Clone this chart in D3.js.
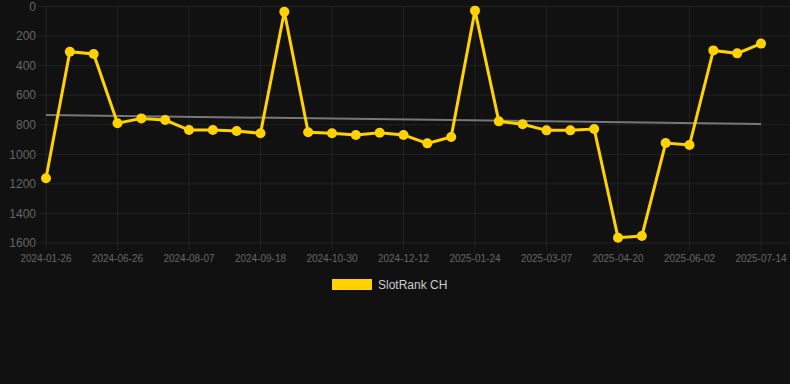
<!DOCTYPE html>
<html>
<head>
<meta charset="utf-8">
<script src="https://cdn.jsdelivr.net/npm/d3@7"></script>
<style>
  html, body { margin: 0; padding: 0; background: #111111; }
  svg { display: block; }
  text { font-family: "Liberation Sans", Arial, sans-serif; }
</style>
</head>
<body>
<svg width="790" height="384"></svg>
<script>

// Fechas de cada punto (solo se muestra una de cada tres)
let fechas = ['2024-01-26', '2024-05-29', '2024-06-12', '2024-06-26', '2024-07-10', '2024-07-24',
              '2024-08-07', '2024-08-21', '2024-09-04', '2024-09-18', '2024-10-02', '2024-10-16',
              '2024-10-30', '2024-11-13', '2024-11-27', '2024-12-12', '2024-12-26', '2025-01-09',
              '2025-01-24', '2025-02-07', '2025-02-21', '2025-03-07', '2025-03-21', '2025-04-05',
              '2025-04-20', '2025-05-04', '2025-05-18', '2025-06-02', '2025-06-16', '2025-06-30',
              '2025-07-14']

let rangos = [1162, 306, 321, 790, 757, 768, 836, 836, 842, 858, 35, 851, 858, 869, 854,
              869, 926, 883, 28, 777, 797, 838, 838, 829, 1564, 1553, 924, 937, 297, 317, 251]

// Tendencia: valor al inicio y al final
let tendencia = [734, 795]

let yTicks = [0, 200, 400, 600, 800, 1000, 1200, 1400, 1600]

let serie = 'SlotRank CH'

let amarillo = '#ffd200'
let grilla = 'rgba(255,255,255,0.07)'
let gris = '#666'

let svg = d3.select('svg')

let area = {left: 46, right: 761, top: 6.5, bottom: 243}

let x = d3.scalePoint()
  .domain(fechas)
  .range([area.left, area.right])

let y = d3.scaleLinear()
  .domain([0, 1600])
  .range([area.top, area.bottom])

/* Grilla */

svg.append('g').selectAll('line')
  .data(yTicks)
  .enter().append('line')
  .attr('x1', 38).attr('x2', 790)
  .attr('y1', d => y(d)).attr('y2', d => y(d))
  .attr('stroke', grilla)

let fechasVisibles = fechas.filter((d, i) => i % 3 == 0)

svg.append('g').selectAll('line')
  .data(fechasVisibles)
  .enter().append('line')
  .attr('x1', d => x(d)).attr('x2', d => x(d))
  .attr('y1', area.top).attr('y2', area.bottom + 7)
  .attr('stroke', grilla)

/* Ejes */

svg.append('g').selectAll('text')
  .data(yTicks)
  .enter().append('text')
  .attr('x', 36)
  .attr('y', d => y(d))
  .attr('dy', '0.35em')
  .attr('text-anchor', 'end')
  .attr('font-size', 12)
  .attr('fill', gris)
  .text(d => d)

svg.append('g').selectAll('text')
  .data(fechasVisibles)
  .enter().append('text')
  .attr('x', d => x(d))
  .attr('y', 262)
  .attr('text-anchor', 'middle')
  .attr('font-size', 10)
  .attr('fill', gris)
  .text(d => d)

/* Tendencia */

svg.append('line')
  .attr('x1', x(fechas[0])).attr('x2', x(fechas[fechas.length - 1]))
  .attr('y1', y(tendencia[0])).attr('y2', y(tendencia[1]))
  .attr('stroke', '#777')
  .attr('stroke-width', 2)

/* Serie */

let linea = d3.line()
  .x((d, i) => x(fechas[i]))
  .y(d => y(d))

svg.append('path')
  .datum(rangos)
  .attr('d', linea)
  .attr('fill', 'none')
  .attr('stroke', amarillo)
  .attr('stroke-width', 3)

svg.append('g').selectAll('circle')
  .data(rangos)
  .enter().append('circle')
  .attr('cx', (d, i) => x(fechas[i]))
  .attr('cy', d => y(d))
  .attr('r', 5)
  .attr('fill', amarillo)

/* Leyenda */

let leyenda = svg.append('g')
leyenda.append('rect')
  .attr('x', 332).attr('y', 279)
  .attr('width', 40).attr('height', 11)
  .attr('fill', amarillo)
leyenda.append('text')
  .attr('x', 378).attr('y', 285)
  .attr('dy', '0.35em')
  .attr('font-size', 12)
  .attr('fill', '#ccc')
  .text(serie)

</script>
</body>
</html>
